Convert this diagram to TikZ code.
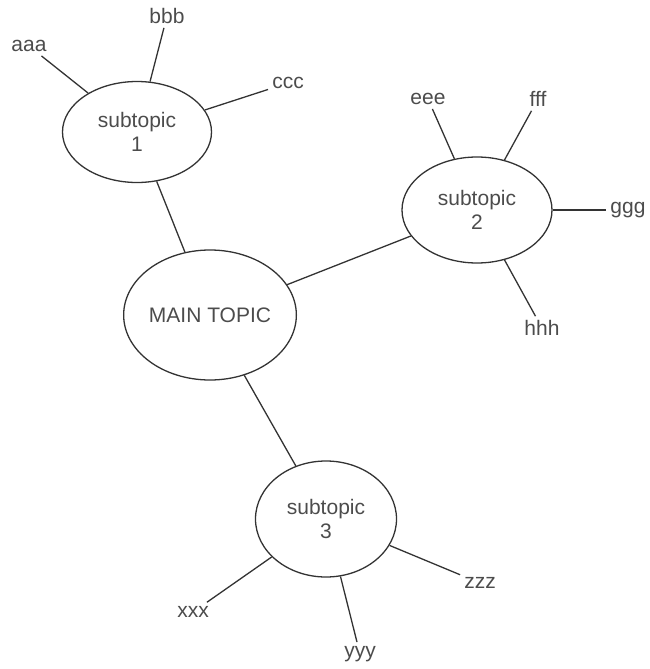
\documentclass[tikz,border=0pt]{standalone}
\usepackage{fontspec}
\setmainfont{Liberation Sans}
\usetikzlibrary{shapes.geometric}

\begin{document}
\begin{tikzpicture}[x=1pt, y=-1pt,
  topic/.style={ellipse, draw=black!80, line width=1.3pt, align=center, text=black!70, inner sep=0pt, font=\fontsize{21}{24}\selectfont},
  leaf/.style={text=black!70, inner sep=4pt, font=\fontsize{21}{24}\selectfont},
  edge/.style={draw=black!80, line width=1.3pt}]
\useasboundingbox (0,0) rectangle (650,669);
\node[topic, minimum width=170, minimum height=130] (main) at (210,315) {MAIN TOPIC};
\node[topic, minimum width=149, minimum height=101] (s1) at (137,132) {subtopic\\1};
\node[topic, minimum width=150, minimum height=106] (s2) at (477,210) {subtopic\\2};
\node[topic, minimum width=141, minimum height=116] (s3) at (326,519) {subtopic\\3};
\draw[edge] (main) -- (s1);
\draw[edge] (main) -- (s2);
\draw[edge] (main) -- (s3);
\foreach \n/\x/\y in {aaa/29/46, bbb/167/16, ccc/288/83} {
 \node[leaf] (\n) at (\x,\y) {\n};
 \draw[edge] (s1) -- (\n);
}
\foreach \n/\x/\y in {eee/428/99, fff/538/99, ggg/628/210, hhh/542/328} {
 \node[leaf] (\n) at (\x,\y) {\n};
 \draw[edge] (s2) -- (\n);
}
\foreach \n/\x/\y in {xxx/193/612, yyy/360/654, zzz/480/583} {
 \node[leaf] (\n) at (\x,\y) {\n};
 \draw[edge] (s3) -- (\n);
}
\end{tikzpicture}
\end{document}
